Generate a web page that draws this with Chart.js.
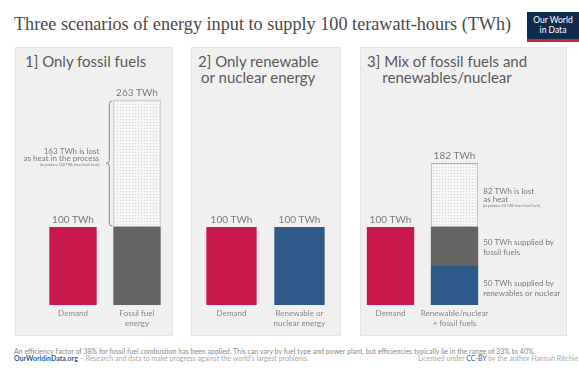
<!DOCTYPE html>
<html>
<head>
<meta charset="utf-8">
<script src="https://cdn.jsdelivr.net/npm/chart.js@4.4.0/dist/chart.umd.min.js"></script>
<style>
	body { margin: 0; width: 579px; height: 372px; background: #fff; position: relative; overflow: hidden; font-family: Lato, sans-serif; }
	.title { position: absolute; left: 14px; top: 15px; font: 18.2px/18px "Liberation Serif", serif; color: #4a4a4a; white-space: nowrap; }
	.logo { position: absolute; left: 527px; top: 12px; width: 52px; height: 30px; background: #0f2b50; border-bottom: 3px solid #c8282e; box-sizing: border-box; color: #fff; font: 8.5px/10px Lato, sans-serif; text-align: center; padding-top: 3px; }
	.panel { position: absolute; top: 47px; height: 289px; background: #f0f0f0; border: 1px solid #e4e4e4; box-sizing: border-box; }
	.ptitle { position: absolute; top: 53px; font: 15px/16px Lato, sans-serif; color: #5a5a5a; text-align: center; white-space: nowrap; }
	.box { position: absolute; top: 47px; height: 289px; }
	.foot { position: absolute; left: 14px; font: 7px/7px Lato, sans-serif; color: #888; white-space: nowrap; }
	.foot b { color: #2f5e9a; font-weight: bold; }
	.right { left: auto; right: 1px; color: #aaa; }
	.right b { font-weight: normal; }
</style>
</head>
<body>
<div class="title">Three scenarios of energy input to supply 100 terawatt-hours (TWh)</div>
<div class="logo">Our World<br>in Data</div>

<div class="panel" style="left:15px;width:158px"></div>
<div class="panel" style="left:191px;width:150px"></div>
<div class="panel" style="left:360px;width:207px"></div>

<div class="ptitle" style="left:25px">1] Only fossil fuels</div>
<div class="ptitle" style="left:198px">2] Only renewable<br>or nuclear energy</div>
<div class="ptitle" style="left:367px">3] Mix of fossil fuels and<br>renewables/nuclear</div>

<div class="box" style="left:15px;width:158px"><canvas id="chart1"></canvas></div>
<div class="box" style="left:191px;width:150px"><canvas id="chart2"></canvas></div>
<div class="box" style="left:355px;width:212px"><canvas id="chart3"></canvas></div>

<div class="foot" style="top:348px">An efficiency factor of 38% for fossil fuel combustion has been applied. This can vary by fuel type and power plant, but efficiencies typically lie in the range of 33% to 40%.</div>
<div class="foot" style="top:355px;color:#aaa"><b>OurWorldinData.org</b> – Research and data to make progress against the world's largest problems.</div>
<div class="foot right" style="top:355px">Licensed under <b>CC-BY</b> by the author Hannah Ritchie</div>

<script>
"use strict";

/********/
/* data */
/********/
// scenario 1: only fossil fuels
const s1Labels = ["Demand", ["Fossil fuel", "energy"]];
const s1Demand = [100, null];
const s1Fossil = [null, 100];
const s1Lost = [null, 163];

// scenario 2: only renewable or nuclear
const s2Labels = ["Demand", ["Renewable or", "nuclear energy"]];
const s2Demand = [100, null];
const s2Renewable = [null, 100];

// scenario 3: mix
const s3Labels = ["Demand", ["Renewable/nuclear", "+ fossil fuels"]];
const s3Demand = [100, null];
const s3Renewable = [null, 50];
const s3Fossil = [null, 50];
const s3Lost = [null, 82];

// notes next to the segments
const s1LostNote = ["163 TWh is lost", "as heat in the process", "(to produce 100 TWh from fossil fuels)"];
const s3LostNote = ["82 TWh is lost", "as heat", "(to produce 50 TWh from fossil fuels)"];
const s3FossilNote = ["50 TWh supplied by", "fossil fuels"];
const s3RenewableNote = ["50 TWh supplied by", "renewables or nuclear"];

/**********/
/* styles */
/**********/
const red = "#c8174a";
const grey = "#646464";
const blue = "#2e5a8a";
const textGrey = "#7a7a7a";

function dots() {
	// small dotted fill for the energy lost as heat
	const c = document.createElement("canvas");
	c.width = 3;
	c.height = 3;
	const g = c.getContext("2d");
	g.fillStyle = "#f6f6f6";
	g.fillRect(0, 0, 3, 3);
	g.fillStyle = "#d2d2d2";
	g.fillRect(0, 0, 1, 1);
	return g.createPattern(c, "repeat");
}

/***********/
/* plugins */
/***********/
const totals = {
	id: "totals",
	afterDatasetsDraw(chart) {
		// write the total of each stack above it
		const ctx = chart.ctx;
		const y = chart.scales.y;
		ctx.save();
		ctx.font = "10px Lato";
		ctx.fillStyle = textGrey;
		ctx.textAlign = "center";
		ctx.textBaseline = "alphabetic";
		chart.data.labels.forEach((label, i) => {
			let total = 0;
			let x = null;
			chart.data.datasets.forEach((ds, d) => {
				if (ds.data[i] != null) {
					total += ds.data[i];
					x = chart.getDatasetMeta(d).data[i].x;
				}
			});
			ctx.fillText(total + " TWh", x, y.getPixelForValue(total) - 4);
		});
		ctx.restore();
	}
};

const notes = {
	id: "notes",
	afterDatasetsDraw(chart, args, opts) {
		const ctx = chart.ctx;
		ctx.save();
		(opts.items || []).forEach(item => {
			const bar = chart.getDatasetMeta(item.dataset).data[1];
			const top = bar.y;
			const bottom = bar.base;
			const mid = (top + bottom) / 2;
			const left = bar.x - bar.width / 2;
			const right = bar.x + bar.width / 2;
			ctx.fillStyle = textGrey;
			ctx.textBaseline = "middle";
			let tx;
			if (item.side === "left") {
				// curly brace along the segment
				const bx = left - 4;
				ctx.strokeStyle = "#888";
				ctx.lineWidth = 1;
				ctx.beginPath();
				ctx.moveTo(bx + 3, top + 1);
				ctx.quadraticCurveTo(bx, top + 1, bx, top + 4);
				ctx.lineTo(bx, mid - 3);
				ctx.quadraticCurveTo(bx, mid, bx - 3, mid);
				ctx.quadraticCurveTo(bx, mid, bx, mid + 3);
				ctx.lineTo(bx, bottom - 4);
				ctx.quadraticCurveTo(bx, bottom - 1, bx + 3, bottom - 1);
				ctx.stroke();
				ctx.textAlign = "right";
				tx = left - 14;
			} else {
				ctx.textAlign = "left";
				tx = right + 5;
			}
			const lh = item.lineHeight;
			let ty = mid + item.shift - (item.lines.length - 1) * lh / 2;
			item.lines.forEach((line, k) => {
				const small = line.startsWith("(");
				ctx.font = (small ? "3.5px" : "8px") + " Lato";
				ctx.fillText(line, tx, small ? ty - 1.5 : ty);
				ty += lh;
			});
		});
		ctx.restore();
	}
};

/***********/
/* builder */
/***********/
function buildChart(id, labels, datasets, padLeft, padRight, noteItems) {
	const ctx = document.getElementById(id).getContext("2d");
	return new Chart(ctx, {
		type: "bar",
		data: {
			labels: labels,
			datasets: datasets
		},
		options: {
			responsive: true,
			maintainAspectRatio: false,
			animation: false,
			layout: { padding: { left: padLeft, right: padRight, top: 24, bottom: 0 } },
			datasets: { bar: { barPercentage: 1, categoryPercentage: 0.74, borderSkipped: false } },
			scales: {
				x: {
					stacked: true,
					grid: { display: false, drawTicks: false },
					border: { display: false },
					ticks: { color: "#888", font: { family: "Lato", size: 8 }, padding: 4, maxRotation: 0, minRotation: 0, autoSkip: false },
					afterFit(scale) { scale.height = 31; }
				},
				y: { stacked: true, display: false, min: 0, max: 300 }
			},
			plugins: {
				legend: { display: false },
				tooltip: { enabled: false },
				notes: { items: noteItems }
			}
		},
		plugins: [totals, notes]
	});
}

/********/
/* MAIN */
/********/
(function main() {
	const pattern = dots();
	buildChart("chart1", s1Labels, [
		{ data: s1Demand, backgroundColor: red },
		{ data: s1Fossil, backgroundColor: grey },
		{ data: s1Lost, backgroundColor: pattern, borderColor: "#b0b0b0", borderWidth: 1 }
	], 26, 4, [
		{ dataset: 2, side: "left", lines: s1LostNote, lineHeight: 7.5, shift: -5 }
	]);
	buildChart("chart2", s2Labels, [
		{ data: s2Demand, backgroundColor: red },
		{ data: s2Renewable, backgroundColor: blue }
	], 6.5, 7.5, []);
	buildChart("chart3", s3Labels, [
		{ data: s3Demand, backgroundColor: red },
		{ data: s3Renewable, backgroundColor: blue },
		{ data: s3Fossil, backgroundColor: grey },
		{ data: s3Lost, backgroundColor: pattern, borderColor: "#b0b0b0", borderWidth: 1 }
	], 3.5, 80.5, [
		{ dataset: 3, side: "right", lines: s3LostNote, lineHeight: 8, shift: 4 },
		{ dataset: 2, side: "right", lines: s3FossilNote, lineHeight: 10, shift: 1 },
		{ dataset: 1, side: "right", lines: s3RenewableNote, lineHeight: 9.5, shift: 3 }
	]);
})();
</script>
</body>
</html>
